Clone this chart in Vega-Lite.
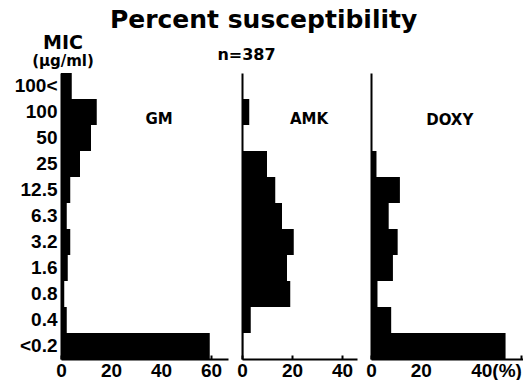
{
  "$schema": "https://vega.github.io/schema/vega-lite/v6.json",
  "padding": {"left": 14, "top": 8, "right": 0, "bottom": 0},
  "background": "white",
  "title": {
    "text": "Percent susceptibility",
    "anchor": "middle",
    "offset": 4,
    "dx": -5,
    "dy": 3,
    "font": "DejaVu Sans",
    "fontSize": 25,
    "fontWeight": "bold",
    "color": "black"
  },
  "datasets": {
    "bars": [
      {"drug": "GM", "mic": "100<", "pct": 4.3},
      {"drug": "GM", "mic": "100", "pct": 14.3},
      {"drug": "GM", "mic": "50", "pct": 12},
      {"drug": "GM", "mic": "25", "pct": 7.6},
      {"drug": "GM", "mic": "12.5", "pct": 3.7},
      {"drug": "GM", "mic": "6.3", "pct": 2.3},
      {"drug": "GM", "mic": "3.2", "pct": 3.7},
      {"drug": "GM", "mic": "1.6", "pct": 2.7},
      {"drug": "GM", "mic": "0.8", "pct": 1.3},
      {"drug": "GM", "mic": "0.4", "pct": 2.3},
      {"drug": "GM", "mic": "<0.2", "pct": 59.5},
      {"drug": "AMK", "mic": "100<", "pct": 0},
      {"drug": "AMK", "mic": "100", "pct": 2.9},
      {"drug": "AMK", "mic": "50", "pct": 0},
      {"drug": "AMK", "mic": "25", "pct": 10},
      {"drug": "AMK", "mic": "12.5", "pct": 13.3},
      {"drug": "AMK", "mic": "6.3", "pct": 16},
      {"drug": "AMK", "mic": "3.2", "pct": 20.7},
      {"drug": "AMK", "mic": "1.6", "pct": 18},
      {"drug": "AMK", "mic": "0.8", "pct": 19.3},
      {"drug": "AMK", "mic": "0.4", "pct": 3.5},
      {"drug": "AMK", "mic": "<0.2", "pct": 0.5},
      {"drug": "DOXY", "mic": "100<", "pct": 0},
      {"drug": "DOXY", "mic": "100", "pct": 0},
      {"drug": "DOXY", "mic": "50", "pct": 0},
      {"drug": "DOXY", "mic": "25", "pct": 2.2},
      {"drug": "DOXY", "mic": "12.5", "pct": 11.6},
      {"drug": "DOXY", "mic": "6.3", "pct": 7.1},
      {"drug": "DOXY", "mic": "3.2", "pct": 10.7},
      {"drug": "DOXY", "mic": "1.6", "pct": 8.8},
      {"drug": "DOXY", "mic": "0.8", "pct": 2.6},
      {"drug": "DOXY", "mic": "0.4", "pct": 8.1},
      {"drug": "DOXY", "mic": "<0.2", "pct": 54}
    ],
    "labels": [
      {"drug": "GM"},
      {"drug": "AMK"},
      {"drug": "DOXY"}
    ]
  },
  "spacing": 14,
  "bounds": "flush",
  "hconcat": [
    {
      "width": 167,
      "height": 286,
      "title": {
        "text": "MIC",
        "subtitle": "(μg/ml)",
        "anchor": "start",
        "frame": "group",
        "align": "center",
        "dx": 2,
        "offset": 4,
        "font": "DejaVu Sans",
        "fontSize": 19,
        "fontWeight": "bold",
        "color": "black",
        "subtitleFont": "DejaVu Sans",
        "subtitleFontSize": 15,
        "subtitleFontWeight": "bold",
        "subtitleColor": "black",
        "subtitlePadding": 1
      },
      "layer": [
        {
          "data": {"name": "bars"},
          "transform": [{"filter": "datum.drug == 'GM'"}],
          "mark": {"type": "bar", "color": "black"},
          "encoding": {
            "y": {
              "field": "mic", "type": "nominal",
              "scale": {"domain": ["100<","100","50","25","12.5","6.3","3.2","1.6","0.8","0.4","<0.2"], "paddingInner": 0, "paddingOuter": 0},
              "axis": {
                "title": null, "ticks": false, "domainWidth": 2, "domainColor": "black",
                "labelFontSize": 19, "labelPadding": 4,
                "labelExpr": "indexof(datum.label, '.') < 0 && indexof(datum.label, '<') < 0 ? datum.label + '\u00a0\u00a0\u00a0' : datum.label"
              }
            },
            "x": {
              "field": "pct", "type": "quantitative",
              "scale": {"domain": [0, 66.8], "nice": false},
              "axis": {
                "title": null, "values": [0,10,20,30,40,50,60],
                "labelExpr": "datum.value % 20 == 0 ? datum.label : ''",
                "tickSize": -4, "tickWidth": 2, "domainWidth": 2,
                "labelFontSize": 19, "labelPadding": 6, "labelFlush": false, "labelOverlap": false
              }
            }
          }
        },
        {
          "data": {"name": "labels"},
          "transform": [{"filter": "datum.drug == 'GM'"}],
          "mark": {"type": "text", "font": "DejaVu Sans", "fontWeight": "bold", "fontSize": 15, "color": "black", "dy": 7},
          "encoding": {
            "x": {"datum": 39.2, "type": "quantitative"},
            "y": {"datum": "100", "type": "nominal"},
            "text": {"field": "drug"}
          }
        }
      ]
    },
    {
      "width": 115,
      "height": 286,
      "title": {
        "text": "n=387",
        "anchor": "middle",
        "frame": "group",
        "dx": -53,
        "offset": 10,
        "font": "DejaVu Sans",
        "fontSize": 16,
        "fontWeight": "bold",
        "color": "black"
      },
      "layer": [
        {
          "data": {"name": "bars"},
          "transform": [{"filter": "datum.drug == 'AMK'"}],
          "mark": {"type": "bar", "color": "black"},
          "encoding": {
            "y": {
              "field": "mic", "type": "nominal",
              "scale": {"domain": ["100<","100","50","25","12.5","6.3","3.2","1.6","0.8","0.4","<0.2"], "paddingInner": 0, "paddingOuter": 0},
              "axis": {"title": null, "ticks": false, "labels": false, "domainWidth": 2, "domainColor": "black"}
            },
            "x": {
              "field": "pct", "type": "quantitative",
              "scale": {"domain": [0, 46], "nice": false},
              "axis": {
                "title": null, "values": [0,10,20,30,40],
                "labelExpr": "datum.value % 20 == 0 ? datum.label : ''",
                "tickSize": -4, "tickWidth": 2, "domainWidth": 2,
                "labelFontSize": 19, "labelPadding": 6, "labelFlush": false, "labelOverlap": false
              }
            }
          }
        },
        {
          "data": {"name": "labels"},
          "transform": [{"filter": "datum.drug == 'AMK'"}],
          "mark": {"type": "text", "font": "DejaVu Sans", "fontWeight": "bold", "fontSize": 15, "color": "black", "dy": 7},
          "encoding": {
            "x": {"datum": 26.8, "type": "quantitative"},
            "y": {"datum": "100", "type": "nominal"},
            "text": {"field": "drug"}
          }
        }
      ]
    },
    {
      "width": 152,
      "height": 286,
      "layer": [
        {
          "data": {"name": "bars"},
          "transform": [{"filter": "datum.drug == 'DOXY'"}],
          "mark": {"type": "bar", "color": "black"},
          "encoding": {
            "y": {
              "field": "mic", "type": "nominal",
              "scale": {"domain": ["100<","100","50","25","12.5","6.3","3.2","1.6","0.8","0.4","<0.2"], "paddingInner": 0, "paddingOuter": 0},
              "axis": {"title": null, "ticks": false, "labels": false, "domainWidth": 2, "domainColor": "black"}
            },
            "x": {
              "field": "pct", "type": "quantitative",
              "scale": {"domain": [0, 61], "nice": false},
              "axis": {
                "title": null, "values": [0,10,20,30,40,50,60],
                "labelExpr": "datum.value == 40 ? '40(%)' : datum.value % 20 == 0 && datum.value < 60 ? datum.label : ''",
                "labelAlign": {"condition": {"test": "datum.value == 40", "value": "left"}, "value": "center"},
                "tickSize": -4, "tickWidth": 2, "domainWidth": 2,
                "labelFontSize": 19, "labelPadding": 6, "labelFlush": false, "labelOverlap": false
              }
            }
          }
        },
        {
          "data": {"name": "labels"},
          "transform": [{"filter": "datum.drug == 'DOXY'"}],
          "mark": {"type": "text", "font": "DejaVu Sans", "fontWeight": "bold", "fontSize": 15, "color": "black", "dy": 8},
          "encoding": {
            "x": {"datum": 31.6, "type": "quantitative"},
            "y": {"datum": "100", "type": "nominal"},
            "text": {"field": "drug"}
          }
        }
      ]
    }
  ],
  "config": {
    "view": {"stroke": null},
    "axis": {
      "grid": false,
      "domainColor": "black",
      "tickColor": "black",
      "labelColor": "black",
      "labelFont": "Liberation Sans",
      "labelFontWeight": "bold"
    }
  }
}
